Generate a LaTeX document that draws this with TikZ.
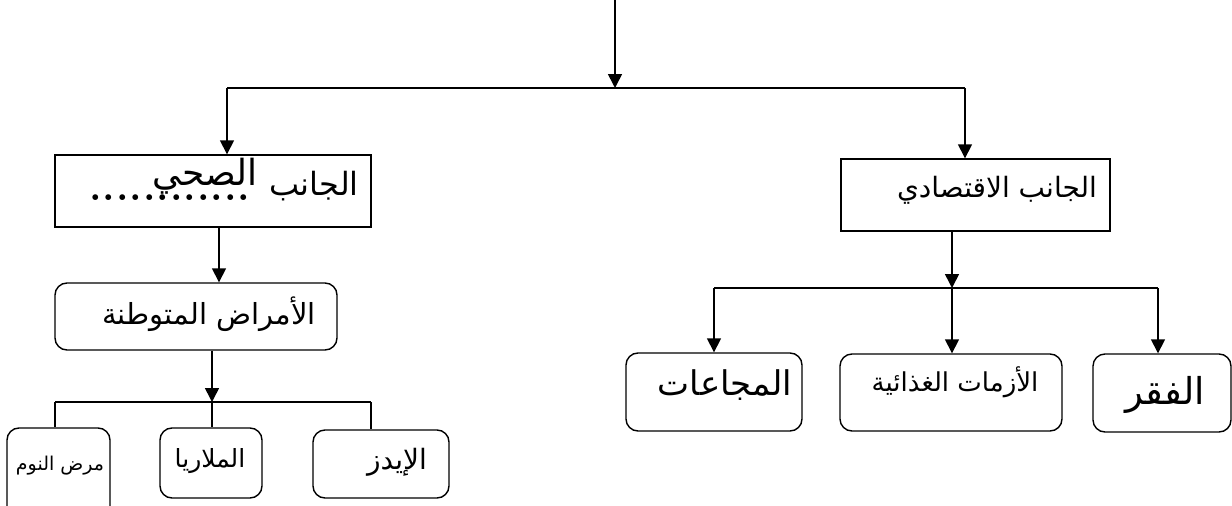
\documentclass[tikz,border=0pt]{standalone}
\usepackage{fontspec}
\usetikzlibrary{arrows.meta}
\newfontfamily\arabicfont[Script=Arabic]{DejaVu Sans}
\TeXXeTstate=1

\begin{document}
\begin{tikzpicture}[x=1pt,y=-1pt,
		box/.style={draw,line width=1.4pt,inner sep=0pt},
		rbox/.style={box,rounded corners=12pt},
		lbl/.style={font=\arabicfont\fontsize{28}{32}\selectfont,inner sep=0pt},
		hand/.style={font=\arabicfont\fontsize{34}{38}\selectfont,inner sep=0pt},
		link/.style={line width=1.6pt},
		arr/.style={link,-{Triangle[length=14pt,width=14pt]}}]
			\useasboundingbox (0,0) rectangle (1232,506);
			\node[box,minimum width=316pt,minimum height=72pt] (health) at (213,191) {};
			\node[lbl,font=\arabicfont\fontsize{32}{36}\selectfont] (healthA) at (314,186) {\beginR الجانب\endR};
			\node[font=\bfseries\fontsize{40}{44}\selectfont,inner sep=0pt,anchor=base] (healthB) at (170,200) {\foreach \d in {1,...,12}{\makebox[13.5pt]{.}}};
			\node[hand,font=\arabicfont\fontsize{36}{40}\selectfont] (healthC) at (205,176) {\beginR الصحي\endR};
			\node[box,minimum width=269pt,minimum height=72pt] (economy) at (975.5,195) {};
			\node[lbl] (economyA) at (997,190) {\beginR الجانب الاقتصادي\endR};
			\node[rbox,minimum width=282pt,minimum height=67pt] (endemic) at (196,316.5) {};
			\node[lbl,font=\arabicfont\fontsize{29}{33}\selectfont] (endemicA) at (209,314) {\beginR الأمراض المتوطنة\endR};
			\node[rbox,minimum width=103pt,minimum height=92pt] (sleep) at (58.5,474) {};
			\node[hand,font=\arabicfont\fontsize{19}{23}\selectfont] (sleepA) at (60,466) {\beginR مرض النوم\endR};
			\node[rbox,minimum width=102pt,minimum height=70pt] (malaria) at (211,463) {};
			\node[hand,font=\arabicfont\fontsize{25}{29}\selectfont] (malariaA) at (210,461) {\beginR الملاريا\endR};
			\node[rbox,minimum width=136pt,minimum height=68pt] (aids) at (381,464) {};
			\node[lbl] (aidsA) at (397,462) {\beginR الإيدز\endR};
			\node[rbox,minimum width=176pt,minimum height=78pt] (famine) at (714,392) {};
			\node[hand] (famineA) at (725,385) {\beginR المجاعات\endR};
			\node[rbox,minimum width=222pt,minimum height=77pt] (food) at (951,392.5) {};
			\node[lbl,font=\arabicfont\fontsize{26}{30}\selectfont] (foodA) at (955,382) {\beginR الأزمات الغذائية\endR};
			\node[rbox,minimum width=138pt,minimum height=78pt] (poverty) at (1162,393) {};
			\node[hand,font=\arabicfont\fontsize{37}{41}\selectfont] (povertyA) at (1165,395) {\beginR الفقر\endR};
			\coordinate (top) at (615,-2);
			\coordinate (split) at (615,88);
			\coordinate (splitL) at (227,88);
			\coordinate (splitR) at (965,88);
			\coordinate (endJoin) at (212,402);
			\coordinate (jL) at (55,402);
			\coordinate (jR) at (371,402);
			\coordinate (ecoJoin) at (952,288);
			\coordinate (eL) at (714,288);
			\coordinate (eR) at (1158,288);
			\draw[arr] (top) -- (split);
			\draw[link] (splitL) -- (splitR);
			\draw[arr] (splitL) -- (health.north -| splitL);
			\draw[arr] (splitR) -- (economy.north -| splitR);
			\draw[arr] ([xshift=6pt]health.south) -- ([xshift=23pt]endemic.north);
			\draw[arr] ([xshift=16pt]endemic.south) -- (endJoin);
			\draw[link] (jL) -- (jR);
			\draw[link] (jL) -- (sleep.north -| jL);
			\draw[link] (endJoin) -- (malaria.north -| endJoin);
			\draw[link] (jR) -- (aids.north -| jR);
			\draw[arr] (economy.south -| ecoJoin) -- (ecoJoin);
			\draw[link] (eL) -- (eR);
			\draw[arr] (eL) -- (famine.north -| eL);
			\draw[arr] (ecoJoin) -- (food.north -| ecoJoin);
			\draw[arr] (eR) -- (poverty.north -| eR);
		\end{tikzpicture}
\end{document}
